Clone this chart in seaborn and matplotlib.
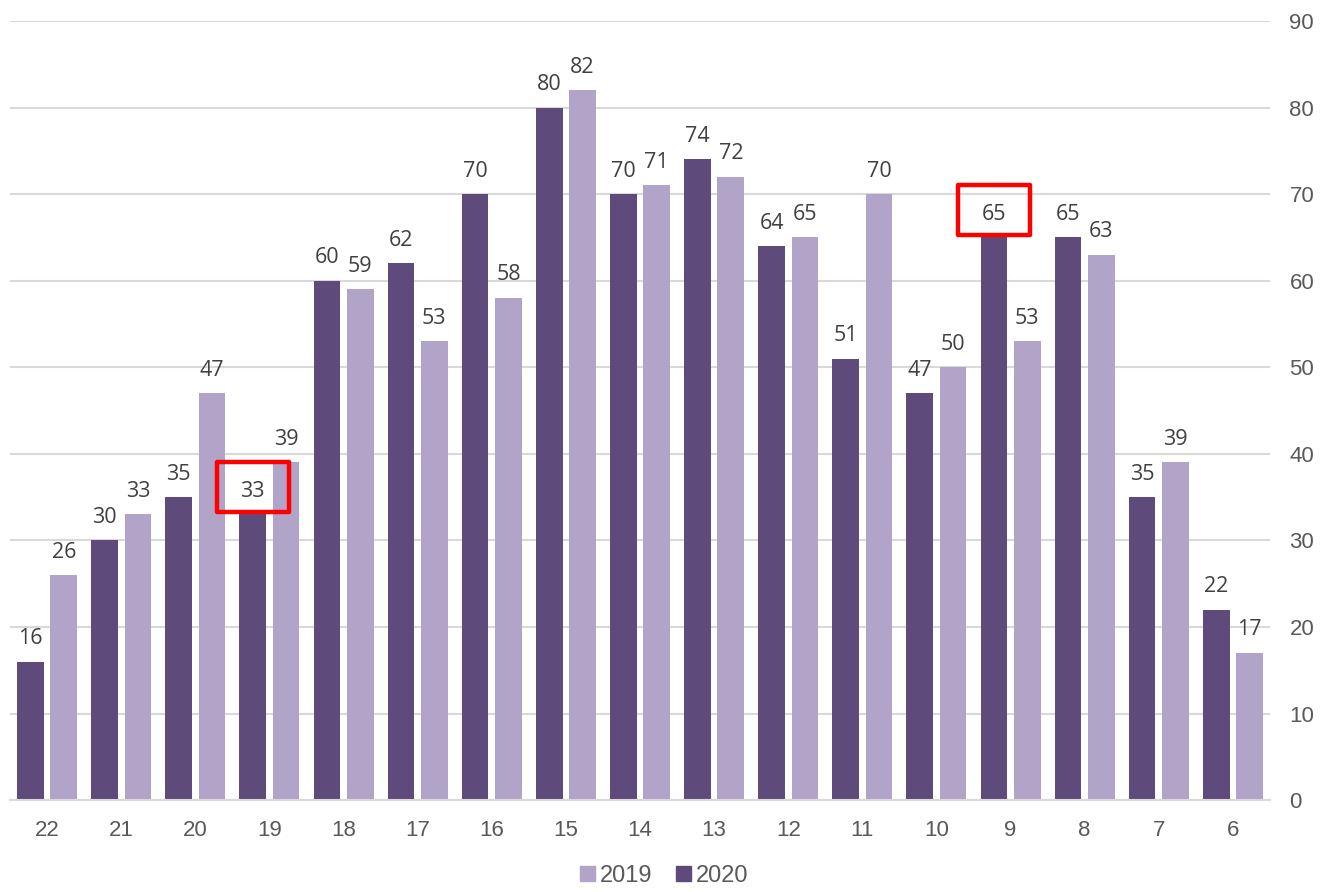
import pandas as pd
import matplotlib.pyplot as plt
import seaborn as sns
from matplotlib.patches import Rectangle, Patch

weeks = ["22", "21", "20", "19", "18", "17", "16", "15", "14",
         "13", "12", "11", "10", "9", "8", "7", "6"]
values_2020 = [16, 30, 35, 33, 60, 62, 70, 80, 70, 74, 64, 51, 47, 65, 65, 35, 22]
values_2019 = [26, 33, 47, 39, 59, 53, 58, 82, 71, 72, 65, 70, 50, 53, 63, 39, 17]
highlighted = ["19", "9"]

DARK = "#5f4b7b"
LIGHT = "#b2a3c8"

sns.set_style("white")
plt.rcParams["font.family"] = ["Liberation Sans", "DejaVu Sans"]

df = pd.DataFrame({
    "week": weeks * 2,
    "year": ["2020"] * len(weeks) + ["2019"] * len(weeks),
    "value": values_2020 + values_2019,
})

fig = plt.figure(figsize=(13.2, 8.92), dpi=100)
ax = fig.add_axes([0.0076, 0.103, 0.9545, 0.8735])

sns.barplot(data=df, x="week", y="value", hue="year", order=weeks,
            hue_order=["2020", "2019"], palette={"2020": DARK, "2019": LIGHT},
            width=0.9, gap=0.2, saturation=1, linewidth=0, ax=ax, legend=False)

for container in ax.containers:
    ax.bar_label(container, fmt="%d", padding=9, fontsize=15.5, color="#404040",
                 family=["Open Sans", "DejaVu Sans"])

# red boxes around the highlighted 2020 labels
dark_bars = ax.containers[0]
for wk in highlighted:
    i = weeks.index(wk)
    bar = dark_bars[i]
    cx = bar.get_x() + bar.get_width() / 2
    top = bar.get_height()
    ax.add_patch(Rectangle((cx - 0.485, top + 0.3), 0.97, 5.7, fill=False,
                           edgecolor="#ff0000", linewidth=3.2, zorder=5,
                           clip_on=False, joinstyle="round"))

ax.set_ylim(0, 90)
ax.set_xlim(-0.5, len(weeks) - 0.5)
ax.set_yticks(range(0, 91, 10))
ax.yaxis.tick_right()
ax.grid(axis="y", color="#d9d9d9", linewidth=1.5)
ax.set_axisbelow(True)
for side in ["top", "left", "right"]:
    ax.spines[side].set_visible(False)
ax.spines["bottom"].set_color("#d9d9d9")
ax.spines["bottom"].set_linewidth(1.5)
ax.tick_params(axis="both", length=0, labelsize=16, colors="#595959")
ax.tick_params(axis="x", pad=14)
ax.tick_params(axis="y", pad=14)
ax.set_xlabel("")
ax.set_ylabel("")

handles = [Patch(color=LIGHT, label="2019"), Patch(color=DARK, label="2020")]
fig.legend(handles=handles, loc="lower center", ncol=2, frameon=False,
           fontsize=17, bbox_to_anchor=(0.503, -0.018), handlelength=0.65,
           handleheight=0.65, handletextpad=0.2, columnspacing=1.0,
           labelcolor="#595959")

fig.savefig("out.png", dpi=100)
plt.close(fig)
